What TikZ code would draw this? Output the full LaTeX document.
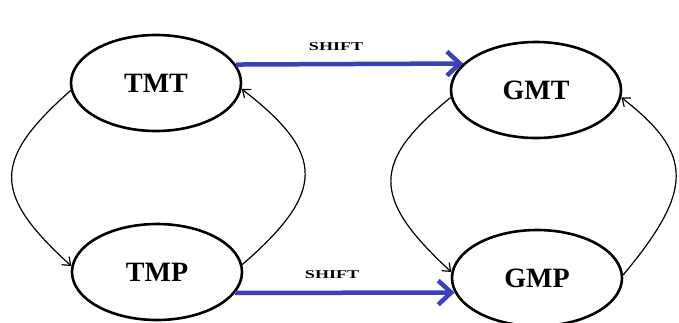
\documentclass[tikz,border=0pt]{standalone}
\usepackage{fontspec}
\setmainfont{Liberation Serif}
\usetikzlibrary{shapes.geometric,arrows.meta}
\definecolor{shiftblue}{RGB}{62,64,184}
\begin{document}
\begin{tikzpicture}[x=1pt,y=-1pt,
  state/.style={draw,ellipse,line width=2.6pt,inner sep=0pt,
    minimum width=170pt,minimum height=96pt,
    font=\fontsize{28}{28}\selectfont\bfseries},
  loop/.style={draw,line width=1.2pt,-{Straight Barb[length=7pt,width=11pt]}},
  shiftarrow/.style={draw,shiftblue,line width=4.5pt,-{Straight Barb[length=13pt,width=24pt]}},
  shiftlabel/.style={font=\fontsize{12}{12}\selectfont\bfseries}]
\useasboundingbox[fill=white] (0,0) rectangle (679,322);
\node[state] (TMT) at (156,83) {TMT};
\node[state] (GMT) at (536,90) {GMT};
\node[state] (TMP) at (157,272) {TMP};
\node[state] (GMP) at (537,278) {GMP};
% blue shift arrows
\draw[shiftarrow] (TMT.13) -- (GMT.160);
\draw[shiftarrow] (TMP.345) -- (GMP.190);
\node[shiftlabel] (s1) at (336,47) {\scalebox{1.5}[1]{SHIFT}};
\node[shiftlabel] (s2) at (332,275) {\scalebox{1.5}[1]{SHIFT}};
% loops
\draw[loop] (TMT.185) .. controls (-8,160) and (-8,194) .. (TMP.176);
\draw[loop] (TMP.5) .. controls (326,192) and (326,154) .. (TMT.356);
\draw[loop] (GMT.185) .. controls (371,162) and (371,198) .. (GMP.176);
\draw[loop] (GMP.2) .. controls (694,190) and (694,154) .. (GMT.355);
\end{tikzpicture}
\end{document}
